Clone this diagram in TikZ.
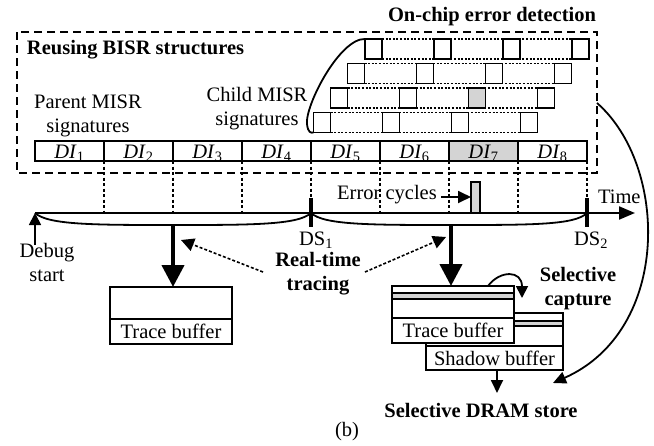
\documentclass[tikz,border=0pt]{standalone}
\usepackage{fontspec}
\setmainfont{Liberation Serif}
\usetikzlibrary{arrows.meta,calc}
\definecolor{shade}{RGB}{212,212,212}
\begin{document}
\begin{tikzpicture}[x=1pt,y=-1pt,
  every node/.style={font=\fontsize{20.5}{24}\selectfont, inner sep=0pt, outer sep=0pt},
  lw/.style={line width=1.8pt},
  dibox/.style={draw,line width=1.8pt,minimum width=69pt,minimum height=20pt,anchor=north west,text height=14pt,text depth=0pt},
  sq/.style={draw,line width=1.8pt,fill=white,minimum width=17pt,minimum height=20pt,anchor=north west},
  rowline/.style={line width=1.4pt,dash pattern=on 2pt off 1.6pt},
  vdot/.style={line width=1.9pt,dash pattern=on 3pt off 2.5pt},
  tick/.style={line width=3.2pt},
  bigarrow/.style={line width=4.2pt,-{Triangle[length=22pt,width=22pt]}},
  smallarrow/.style={line width=1.8pt,-{Triangle[length=13pt,width=12pt]}},
  dotarrow/.style={line width=1.6pt,dash pattern=on 3pt off 2pt,-{Triangle[length=13pt,width=13pt]}},
  buf/.style={draw,line width=1.8pt,fill=white,anchor=north west},
  bold/.style={font=\fontsize{20.5}{24}\selectfont\bfseries}
]
\useasboundingbox (0,0) rectangle (654,445);

% dashed BISR box
\draw[line width=1.7pt,dash pattern=on 8pt off 5pt] (17,32) rectangle (597,173);
\node[bold,anchor=west] (reuse) at (27,50) {Reusing BISR structures};
\node[bold,anchor=east] (onchip) at (596,17) {On-chip error detection};

\node[align=center] (parent) at (88,116) {Parent MISR\\signatures};
\node[align=center] (child) at (257,109) {Child MISR\\signatures};

% child MISR rows
\foreach \r/\x/\y in {1/365/39, 2/347.5/63.5, 3/330.5/88, 4/313.5/112.5} {
  \foreach \c in {1,...,4} {
    \node[sq] (sq\r\c) at ({\x+69*(\c-1)},\y) {};
  }
  \draw[rowline] (sq\r1.north east) -- (sq\r4.north west);
  \draw[rowline] (sq\r1.south east) -- (sq\r4.south west);
}
\node[sq,fill=shade] (sqerr) at (sq33.north west) {};

% curve for on-chip detection
\draw[lw] (sq11.north west) .. controls (340,38) and (305,105) .. (307,124)
   .. controls (308,133) and (311,133) .. (sq41.south west);

% DI bar
\foreach \i in {1,...,8} {
  \node[dibox] (di\i) at ({35+69*(\i-1)},141) {\textit{DI}\textsubscript{\i}};
}
\node[dibox,fill=shade] (di7s) at (di7.north west) {\textit{DI}\textsubscript{7}};

% timeline
\coordinate (tl0) at (35,213);
\coordinate (tlend) at (635,213);
\draw[line width=2.2pt,-{Triangle[length=16pt,width=13pt]}] (tl0) -- (tlend);
\node[anchor=west] (time) at (598,197) {Time};

\foreach \i in {1,...,8} {
  \draw[vdot] (di\i.south east) -- (di\i.south east |- tl0);
}
\coordinate (ds1) at (di4.south east |- tl0);
\coordinate (ds2) at (di8.south east |- tl0);
\draw[tick] ($(ds1)+(0,-15)$) -- ($(ds1)+(0,14)$);
\draw[tick] ($(ds2)+(0,-15)$) -- ($(ds2)+(0,14)$);

% braces
\coordinate (b1) at (173,225);
\coordinate (b2) at (451,225);
\draw[lw] (tl0) .. controls (48,225) and (95,225) .. (b1) .. controls (251,225) and (298,225) .. (ds1);
\draw[lw] (ds1) .. controls (324,225) and (370,225) .. (b2) .. controls (532,225) and (575,225) .. (ds2);

% debug start
\coordinate (dbs) at (35,245);
\draw[line width=1.8pt,-{Triangle[length=12pt,width=12pt]}] (dbs) -- (tl0);
\node[align=center,anchor=north] (debug) at (47,243) {Debug\\start};

\node (ds1l) at (316,240) {DS\textsubscript{1}};
\node (ds2l) at (591,240) {DS\textsubscript{2}};

% error cycles
\node (errt) at (387,195) {Error cycles};
\node[draw,line width=1.6pt,fill=shade,minimum width=9pt,minimum height=31pt,anchor=south west] (err) at (471,213) {};
\coordinate (erra) at (441,197);
\draw[smallarrow] (erra) -- (err.west |- erra);

% real-time tracing
\node[bold,align=center] (rt) at (318,274) {Real-time\\tracing};
\coordinate (rta) at (263,272);
\coordinate (rtb) at (365,272);
\coordinate (rtl) at (181,240);
\coordinate (rtr) at (446,237);
\draw[dotarrow] (rta) -- (rtl);
\draw[dotarrow] (rtb) -- (rtr);

% left trace buffer
\node[buf,minimum width=122pt,minimum height=32pt] (tb1top) at (110,287) {};
\node[buf,minimum width=122pt,minimum height=25pt] (tb1) at (tb1top.south west) {Trace buffer};
\draw[bigarrow] (b1) -- (tb1top.north -| b1);

% shadow buffer (behind)
\node[buf,minimum width=137pt,minimum height=33pt] (sbtop) at (426,313) {};
\node[buf,minimum width=137pt,minimum height=24pt] (sb) at (sbtop.south west) {Shadow buffer};
\draw[lw,fill=shade] (514,321) rectangle (sbtop.east |- 0,326);

% right trace buffer
\node[buf,minimum width=122pt,minimum height=32pt] (tb2top) at (392,286) {};
\node[buf,minimum width=122pt,minimum height=25pt] (tb2) at (tb2top.south west) {Trace buffer};
\draw[lw,fill=shade] (tb2top.west |- 0,293) rectangle (tb2top.east |- 0,299);
\draw[bigarrow] (b2) -- (tb2top.north -| b2);

% selective capture
\coordinate (scs) at (488,286);
\coordinate (sce) at (522,298);
\draw[line width=1.8pt,-{Triangle[length=12pt,width=12pt]}] (scs) .. controls (500,270) and (522,270) .. (sce);
\node[bold,align=center] (sc) at (578,289) {Selective\\capture};

% DRAM store
\coordinate (dsa) at (497,393);
\draw[smallarrow] (sb.south -| dsa) -- (dsa);
\node[bold] (dram) at (481,410) {Selective DRAM store};
\coordinate (rcs) at (597,103);
\coordinate (rce) at (553,383);
\draw[lw,-{Triangle[length=13pt,width=12pt]}] (rcs) .. controls (668,165) and (672,330) .. (rce);

\node (cap) at (347,432) {(b)};
\end{tikzpicture}
\end{document}
